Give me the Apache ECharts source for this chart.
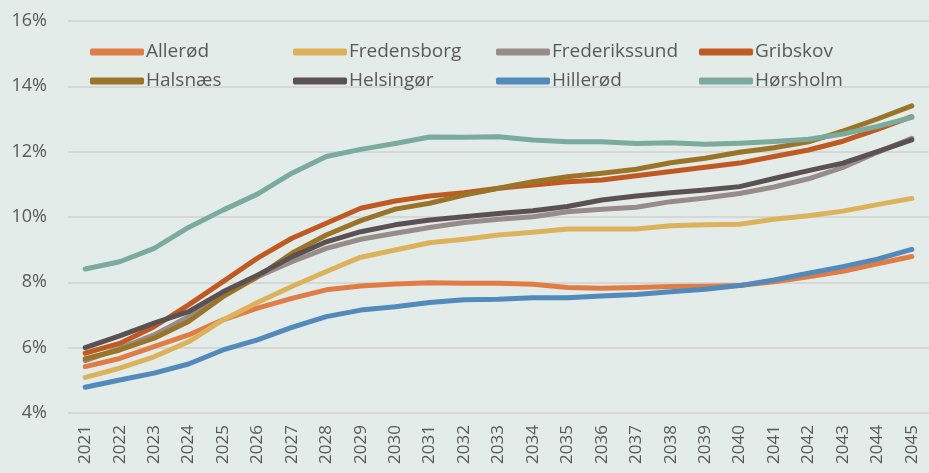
<!DOCTYPE html>
<html>
<head>
<meta charset="utf-8">
<script src="https://cdn.jsdelivr.net/npm/echarts@6/dist/echarts.min.js"></script>
<style>
html,body{margin:0;padding:0;background:#e3ece9;}
#chart{width:929px;height:473px;}
</style>
</head>
<body>
<div id="chart"></div>
<script>
const years = ['2021','2022','2023','2024','2025','2026','2027','2028','2029','2030','2031','2032','2033','2034','2035','2036','2037','2038','2039','2040','2041','2042','2043','2044','2045'];
const yTicks = [4, 6, 8, 10, 12, 14, 16];

const allerod      = [5.42,5.67,6.03,6.39,6.85,7.21,7.51,7.77,7.89,7.95,7.99,7.97,7.97,7.94,7.84,7.82,7.84,7.87,7.88,7.90,8.02,8.17,8.34,8.57,8.79];
const fredensborg  = [5.09,5.37,5.72,6.18,6.85,7.38,7.87,8.33,8.77,8.99,9.21,9.32,9.45,9.53,9.63,9.63,9.63,9.73,9.76,9.78,9.93,10.04,10.18,10.38,10.57];
const frederikssund= [5.60,5.98,6.39,6.95,7.61,8.17,8.63,9.04,9.32,9.50,9.68,9.83,9.93,10.01,10.16,10.24,10.30,10.47,10.58,10.72,10.92,11.17,11.52,11.98,12.41];
const gribskov     = [5.83,6.13,6.64,7.31,8.02,8.74,9.35,9.81,10.27,10.49,10.64,10.74,10.88,10.98,11.08,11.13,11.26,11.39,11.52,11.65,11.85,12.05,12.32,12.68,13.07];
const halsnaes     = [5.66,5.93,6.29,6.80,7.56,8.17,8.89,9.45,9.89,10.24,10.42,10.67,10.88,11.08,11.23,11.34,11.46,11.66,11.80,11.98,12.12,12.30,12.63,13.00,13.40];
const helsingor    = [6.00,6.36,6.75,7.10,7.71,8.22,8.78,9.24,9.55,9.76,9.91,10.01,10.11,10.19,10.32,10.52,10.64,10.74,10.83,10.93,11.18,11.42,11.65,12.00,12.36];
const hillerod     = [4.79,5.01,5.22,5.50,5.93,6.24,6.62,6.95,7.15,7.25,7.38,7.47,7.48,7.53,7.53,7.58,7.63,7.71,7.79,7.90,8.07,8.28,8.48,8.71,9.01];
const horsholm     = [8.41,8.63,9.04,9.68,10.21,10.70,11.34,11.85,12.07,12.25,12.45,12.44,12.46,12.36,12.30,12.30,12.25,12.27,12.23,12.26,12.31,12.38,12.54,12.77,13.05];

const names  = ['Allerød','Fredensborg','Frederikssund','Gribskov','Halsnæs','Helsingør','Hillerød','Hørsholm'];
const values = [allerod,fredensborg,frederikssund,gribskov,halsnaes,helsingor,hillerod,horsholm];
const colors = ['#e07d46','#dcb35c','#978c8a','#c05a22','#9a7428','#5b5152','#518abb','#7aab9d'];

const FONT = 'Open Sans';
const TXT = '#595959';

const series = names.map((n,i)=>({
  name:n, type:'line', data:values[i], symbol:'none', smooth:false,
  lineStyle:{width:5, color:colors[i], cap:'round', join:'round'},
  itemStyle:{color:colors[i]}
}));

function legend(data, top){
  return {
    data:data, top:top, left:85, orient:'horizontal',
    itemWidth:54, itemHeight:7, itemGap:0, icon:'roundRect',
    textStyle:{fontFamily:FONT, fontSize:19, color:TXT, width:147, lineHeight:22, padding:[0,0,0,-3]}
  };
}

const chart = echarts.init(document.getElementById('chart'), null, {renderer:'canvas'});
chart.setOption({
  backgroundColor:'#e3ece9',
  animation:false,
  legend:[legend(names.slice(0,4), 36), legend(names.slice(4), 65)],
  grid:{left:68, right:0, top:21, bottom:60, containLabel:false},
  xAxis:{
    type:'category', data:years, boundaryGap:true,
    axisLine:{show:false}, axisTick:{show:false},
    axisLabel:{rotate:90, interval:0, margin:12, fontFamily:FONT, fontSize:17, color:TXT}
  },
  yAxis:{
    type:'value', min:yTicks[0], max:yTicks[yTicks.length-1], interval:2,
    axisLine:{show:false}, axisTick:{show:false},
    splitLine:{lineStyle:{color:'#d5d8d7', width:2}},
    axisLabel:{formatter:'{value}%', margin:21, fontFamily:FONT, fontSize:18, color:TXT}
  },
  series:series
});
</script>
</body>
</html>
